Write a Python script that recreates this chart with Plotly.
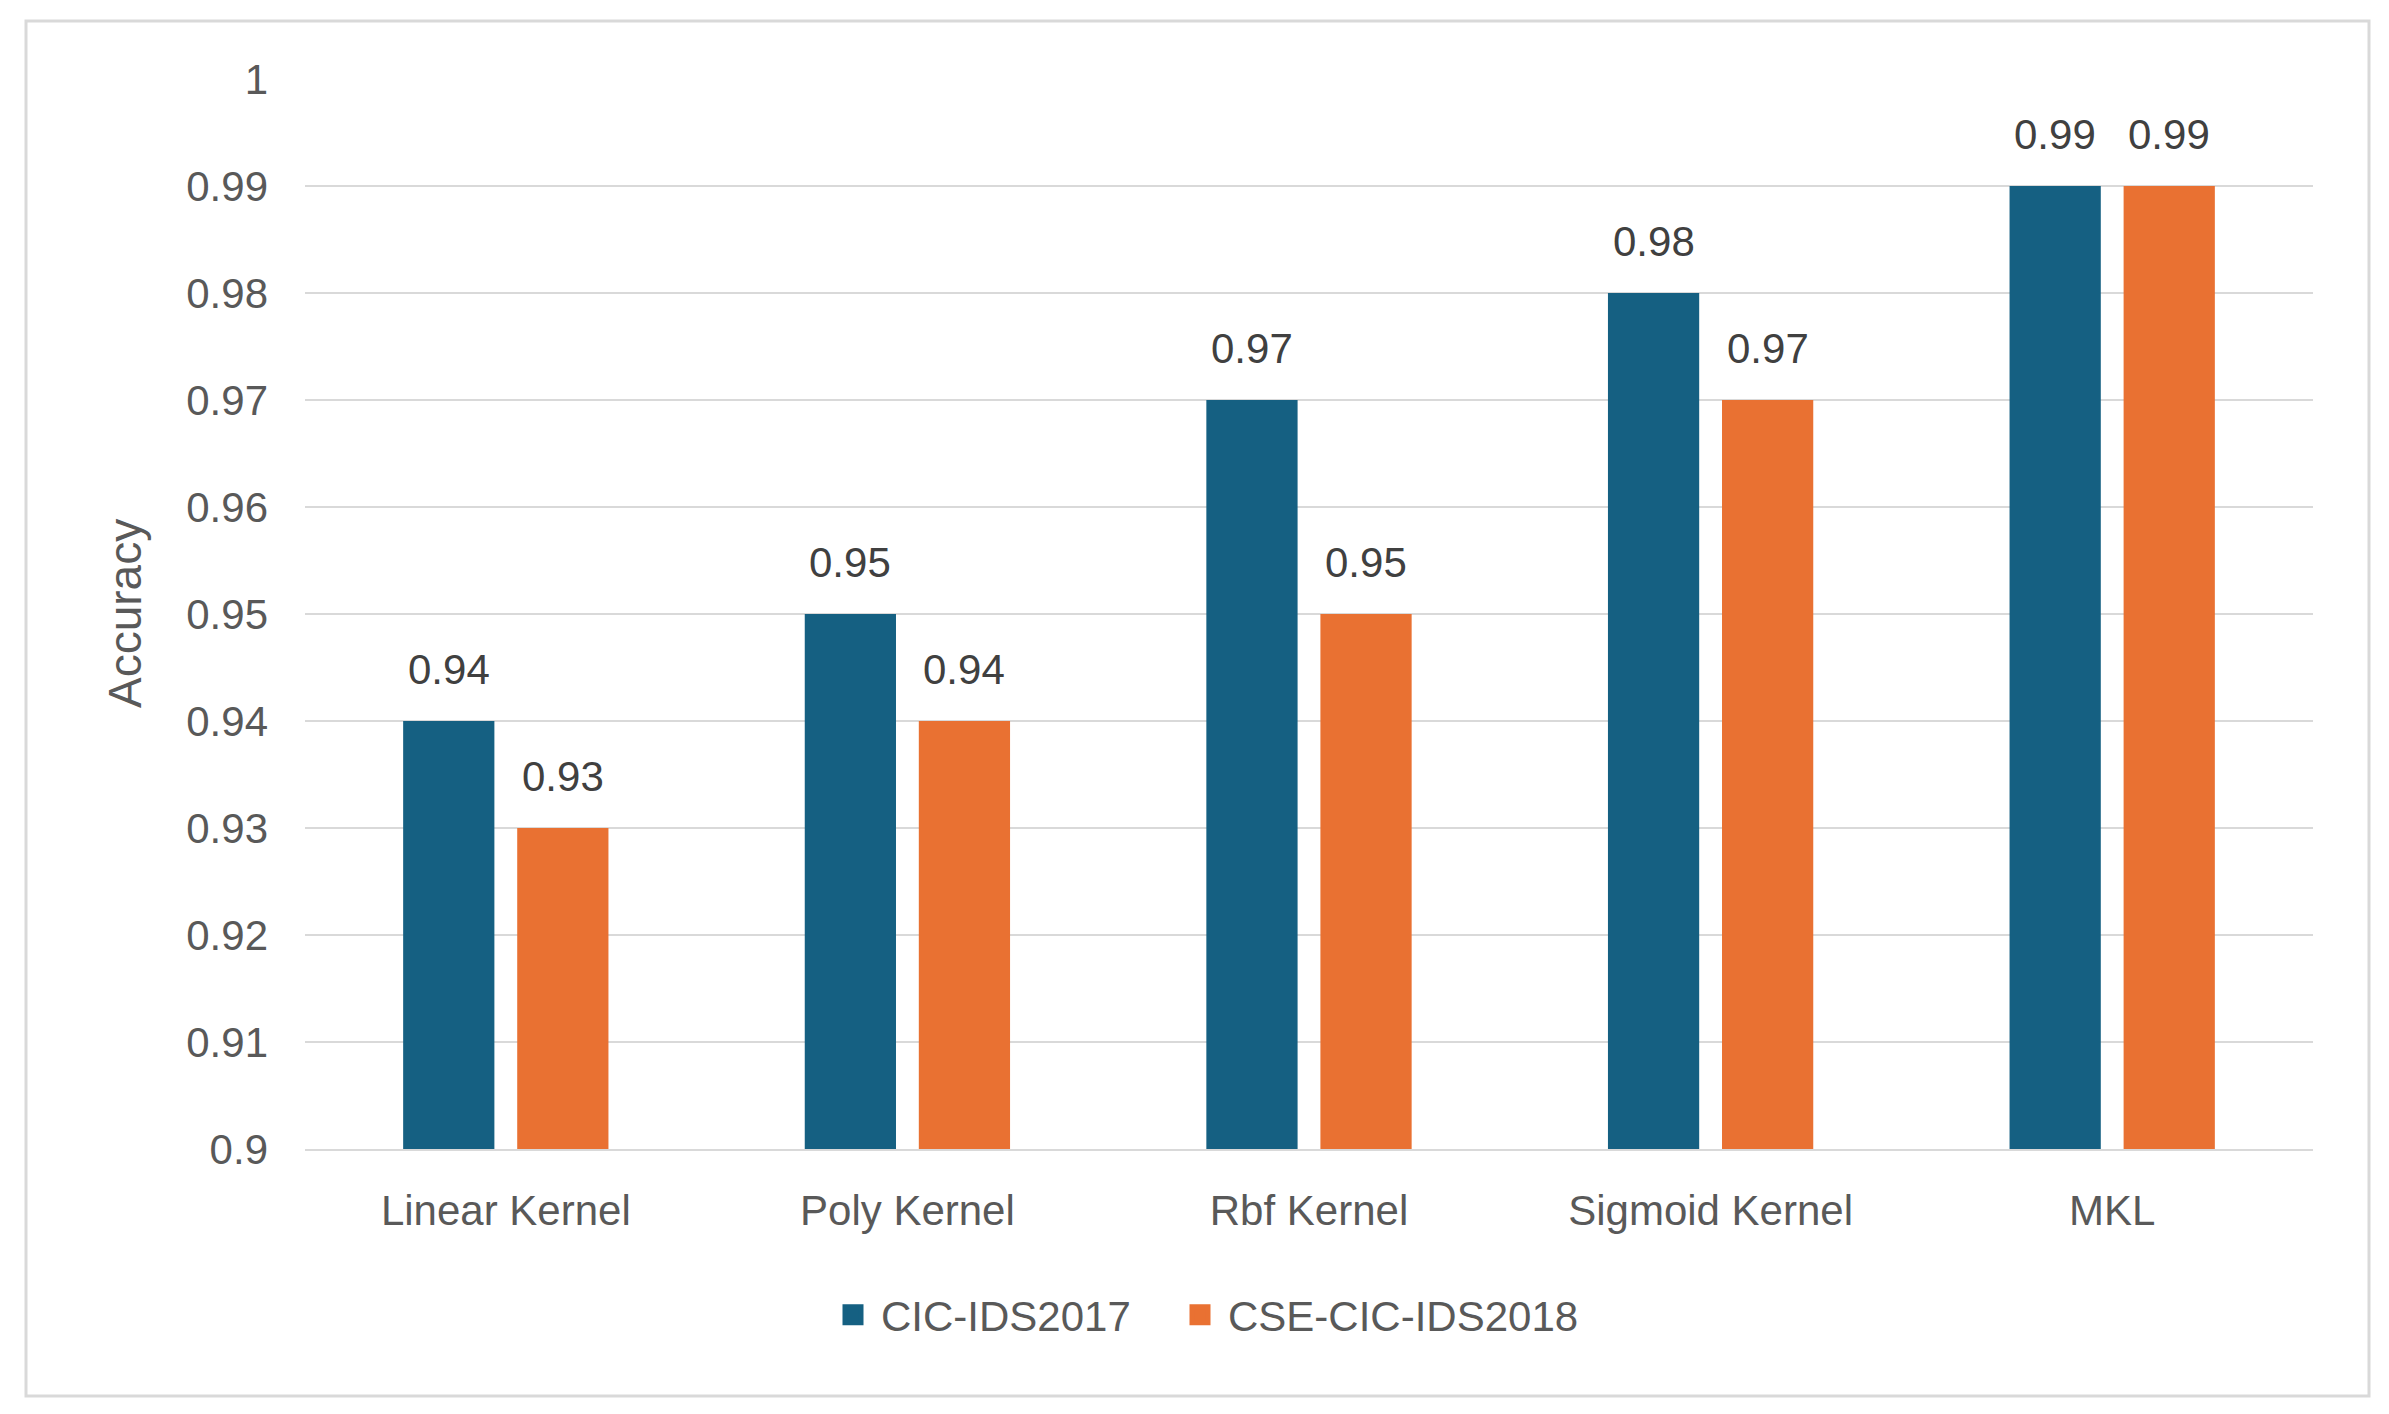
import plotly.graph_objects as go

categories = ["Linear Kernel", "Poly Kernel", "Rbf Kernel", "Sigmoid Kernel", "MKL"]
series_names = ["CIC-IDS2017", "CSE-CIC-IDS2018"]
cic2017 = [0.94, 0.95, 0.97, 0.98, 0.99]
cse2018 = [0.93, 0.94, 0.95, 0.97, 0.99]
y_ticks = [0.9, 0.91, 0.92, 0.93, 0.94, 0.95, 0.96, 0.97, 0.98, 0.99, 1.0]
y_tick_labels = ["0.9", "0.91", "0.92", "0.93", "0.94", "0.95", "0.96", "0.97", "0.98", "0.99", "1"]

colors = ["#156082", "#E97132"]
text_color = "#595959"
font_family = "Liberation Sans, Arial, sans-serif"

# page body has an 8px margin; work in reference coordinates minus 8
OFF = 8
W, H = 2389 - 2 * OFF, 1414 - 2 * OFF
ml = 305 - OFF
mt = 79 - OFF
mr = W - (2313 - OFF)
mb = H - (1149 - OFF)
pw = W - ml - mr
ph = H - mt - mb


def px_x(x):
    return (x - OFF - ml) / pw


def px_y(y):
    return (H - mb - (y - OFF)) / ph


fig = go.Figure()
for name, vals, col in zip(series_names, [cic2017, cse2018], colors):
    fig.add_trace(go.Bar(
        x=categories, y=vals, name=name,
        marker=dict(color=col, line=dict(width=0)),
        hoverinfo="x+y", showlegend=False,
    ))
# legend entries with larger square swatches, one legend box per series
legend_ids = ["legend", "legend2"]
for name, col, lid in zip(series_names, colors, legend_ids):
    fig.add_trace(go.Scatter(
        x=[None], y=[None], mode="markers", name=name,
        marker=dict(symbol="square", size=16, color=col, line=dict(color=col, width=5)),
        showlegend=True, hoverinfo="skip", legend=lid,
    ))

annotations = []
for vals, shift in [(cic2017, -57), (cse2018, 57)]:
    for c, v in zip(categories, vals):
        annotations.append(dict(
            x=c, y=v, xref="x", yref="y", text=f"{v:g}", showarrow=False,
            xshift=shift, yshift=52, yanchor="middle", xanchor="center",
            font=dict(size=42, color="#404040", family=font_family),
        ))
annotations.append(dict(
    x=px_x(125), y=px_y(614), xref="paper", yref="paper",
    text="Accuracy", textangle=-90, showarrow=False,
    xanchor="center", yanchor="middle",
    font=dict(size=46, color=text_color, family=font_family),
))

legend_common = dict(
    orientation="h", xanchor="left", yanchor="middle", y=px_y(1315),
    font=dict(size=42, color=text_color, family=font_family),
    itemsizing="trace", itemwidth=46, bgcolor="rgba(0,0,0,0)",
)

fig.update_layout(
    width=W, height=H,
    margin=dict(l=ml, r=mr, t=mt, b=mb, pad=0),
    paper_bgcolor="white", plot_bgcolor="white",
    barmode="group", bargap=0.432, bargroupgap=0.2,
    font=dict(family=font_family, size=42, color=text_color),
    showlegend=True,
    legend=dict(x=px_x(825), **legend_common),
    legend2=dict(x=px_x(1172), **legend_common),
    annotations=annotations,
    shapes=[dict(
        type="rect", xref="paper", yref="paper",
        x0=px_x(26), x1=px_x(2369),
        y0=px_y(1396), y1=px_y(21),
        line=dict(color="#D9D9D9", width=3), fillcolor="rgba(0,0,0,0)", layer="below",
    )],
)

fig.update_xaxes(
    type="category", showgrid=False, showline=True, linecolor="#D9D9D9", linewidth=2,
    ticks="", ticklabelstandoff=24,
    tickfont=dict(size=42, color=text_color, family=font_family),
)
fig.update_yaxes(
    range=[0.9, 1.0], tickvals=y_ticks, ticktext=y_tick_labels,
    showgrid=True, gridcolor="#D9D9D9", gridwidth=2, zeroline=False,
    showline=False, ticks="", ticklabelstandoff=36,
    tickfont=dict(size=42, color=text_color, family=font_family),
)

fig.write_html("out.html")
